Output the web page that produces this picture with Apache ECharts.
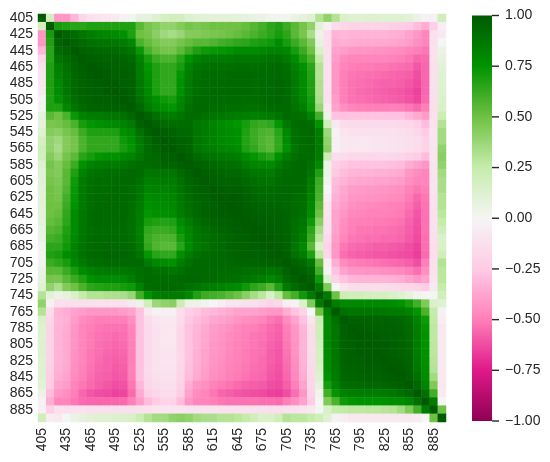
<!DOCTYPE html>
<html><head><meta charset="utf-8">
<style>html,body{margin:0;padding:0;background:#fff}#c{width:550px;height:462px;filter:blur(0.4px)}</style>
<script src="https://cdn.jsdelivr.net/npm/echarts@6/dist/echarts.min.js"></script>
</head><body><div id="c"></div>
<script>
const wavelengths = [405,415,425,435,445,455,465,475,485,495,505,515,525,535,545,555,565,575,585,595,605,615,625,635,645,655,665,675,685,695,705,715,725,735,745,755,765,775,785,795,805,815,825,835,845,855,865,875,885,895];
const colorStops = ['#8e0152','#e0188a','#ff7fb8','#ffcbe5','#f5f5f5','#c6ecab','#6fc143','#009300','#005a00'];
const barTicks = [-1,-0.75,-0.5,-0.25,0,0.25,0.5,0.75,1];
// Lower triangle of the correlation matrix, in hundredths
const lowerTriangle = [
[100],
[18,100],
[-42,70,100],
[-42,68,95,100],
[-32,66,92,96,100],
[-18,66,88,93,97,100],
[-12,68,84,90,95,98,100],
[-10,68,82,89,94,97,99,100],
[-9,68,80,88,93,96,98,99,100],
[-6,68,79,87,93,96,97,98,99,100],
[-2,68,76,85,91,95,97,98,98,99,100],
[2,68,68,80,88,93,95,96,97,97,98,100],
[8,55,50,58,73,82,85,86,87,88,90,94,100],
[8,47,48,52,58,70,74,76,78,79,82,86,96,100],
[12,44,42,47,52,62,68,68,68,69,76,80,90,97,100],
[17,40,36,44,48,58,64,64,64,64,72,76,86,93,98,100],
[19,40,34,44,48,58,64,64,64,64,70,74,85,92,96,99,100],
[18,44,38,48,54,66,70,74,76,76,80,82,88,92,94,97,98,100],
[13,48,44,52,62,75,82,84,86,86,88,90,92,92,93,95,96,98,100],
[11,46,44,55,68,82,88,90,91,91,92,93,92,87,88,88,88,93,97,100],
[10,48,46,55,72,86,90,92,92,92,93,93,90,84,85,85,85,90,95,98,100],
[10,50,47,57,73,86,91,92,92,93,93,92,88,82,83,83,84,89,94,97,98,100],
[10,50,48,60,74,86,91,92,93,93,93,92,87,78,80,80,81,87,92,95,97,99,100],
[10,50,50,62,75,86,91,93,93,93,93,91,86,76,78,78,80,86,91,94,96,98,99,100],
[9,50,52,64,78,87,92,93,93,93,93,91,85,74,76,76,78,85,90,94,96,98,99,99,100],
[8,52,55,65,78,87,92,93,93,93,92,90,84,70,68,67,68,78,85,91,94,96,97,98,99,100],
[6,56,58,68,78,87,91,92,92,92,92,90,83,64,62,62,64,74,81,88,91,94,95,97,98,99,100],
[5,60,62,70,80,88,92,93,93,93,93,91,84,62,58,57,58,70,80,87,90,92,94,95,97,98,99,100],
[3,65,65,72,82,89,92,93,94,94,94,92,86,64,57,55,55,66,78,86,89,92,93,95,96,97,98,99,100],
[2,68,70,78,82,90,93,94,95,95,95,93,89,74,66,64,64,76,85,90,92,93,94,95,96,97,97,98,99,100],
[2,62,65,70,80,86,91,92,93,93,93,93,93,86,80,78,76,85,90,93,93,94,94,94,95,95,95,96,97,98,100],
[5,55,55,62,70,78,83,86,86,86,87,89,91,92,90,90,88,90,93,93,93,93,92,92,92,91,90,90,88,90,96,100],
[8,48,47,55,62,68,75,78,78,78,80,84,90,93,92,92,92,93,94,94,93,93,92,91,90,88,86,84,80,84,93,97,100],
[12,40,33,45,50,58,65,67,68,68,70,72,82,92,93,93,93,92,90,88,85,84,82,80,78,72,65,62,55,68,86,92,97,100],
[30,10,5,8,15,25,30,30,32,32,33,38,60,75,84,86,86,85,80,68,62,60,58,54,50,42,34,28,15,28,52,60,72,86,100],
[40,-3,-14,-14,-13,-13,-12,-12,-12,-12,-12,-8,5,20,37,40,42,22,5,5,3,0,-5,-10,-10,-12,-12,-16,-20,-18,-5,-2,14,45,86,100],
[30,-15,-33,-35,-38,-40,-42,-42,-42,-42,-40,-38,-28,-8,-2,-3,-3,-14,-22,-26,-30,-32,-34,-36,-38,-38,-38,-40,-42,-42,-35,-28,-20,0,50,84,100],
[15,-18,-32,-34,-40,-46,-48,-50,-50,-50,-50,-45,-28,-15,-10,-8,-8,-15,-26,-30,-33,-37,-38,-40,-43,-45,-46,-48,-52,-54,-46,-38,-28,-10,22,80,90,100],
[12,-20,-33,-35,-42,-48,-50,-52,-53,-53,-53,-48,-28,-16,-12,-9,-9,-17,-28,-32,-36,-40,-42,-44,-47,-49,-50,-52,-55,-57,-50,-42,-32,-14,20,80,88,97,100],
[12,-20,-33,-36,-43,-48,-51,-53,-54,-55,-54,-49,-28,-16,-12,-9,-9,-17,-28,-33,-37,-41,-43,-46,-48,-50,-52,-53,-56,-58,-51,-43,-33,-15,20,80,88,97,99,100],
[13,-20,-33,-36,-43,-48,-51,-54,-55,-56,-55,-50,-28,-16,-12,-9,-9,-17,-28,-33,-37,-42,-44,-47,-49,-50,-52,-54,-57,-59,-52,-44,-33,-15,18,80,88,97,98,99,100],
[13,-20,-33,-36,-44,-48,-52,-54,-56,-57,-56,-50,-28,-16,-12,-10,-10,-17,-28,-34,-38,-42,-44,-47,-49,-51,-53,-54,-58,-60,-53,-44,-33,-15,17,79,88,96,98,99,99,100],
[12,-20,-33,-36,-44,-48,-52,-55,-57,-58,-57,-50,-28,-16,-12,-10,-10,-17,-28,-34,-38,-43,-45,-48,-49,-51,-53,-55,-58,-60,-54,-45,-33,-15,17,79,87,96,97,98,99,99,100],
[12,-22,-34,-37,-45,-49,-53,-56,-57,-59,-58,-49,-28,-16,-12,-11,-11,-18,-29,-35,-39,-44,-46,-49,-50,-52,-54,-55,-59,-61,-55,-46,-34,-16,15,78,86,95,96,97,98,98,99,100],
[12,-23,-35,-38,-46,-50,-54,-57,-58,-60,-59,-50,-28,-17,-13,-12,-12,-19,-30,-36,-40,-45,-47,-50,-51,-53,-55,-56,-60,-62,-56,-47,-35,-17,12,75,85,94,95,96,97,97,98,99,100],
[10,-25,-38,-40,-48,-52,-55,-58,-60,-62,-61,-52,-32,-18,-15,-13,-13,-21,-35,-42,-45,-49,-51,-53,-55,-57,-58,-59,-62,-63,-58,-50,-38,-18,8,70,82,91,92,93,94,94,95,96,98,100],
[5,-30,-42,-45,-50,-56,-60,-62,-63,-65,-64,-55,-36,-22,-18,-15,-15,-23,-38,-46,-48,-52,-56,-58,-60,-61,-62,-63,-65,-66,-62,-54,-42,-20,3,60,74,82,84,85,85,85,86,87,90,94,100],
[-2,-35,-48,-48,-52,-55,-56,-56,-56,-56,-55,-50,-40,-30,-25,-20,-20,-30,-42,-48,-48,-50,-52,-53,-53,-53,-53,-54,-54,-55,-50,-45,-38,-25,0,45,58,72,74,75,75,75,76,77,78,82,90,100],
[-3,-22,-12,-12,-12,-12,-13,-13,-13,-13,-13,-13,-12,-12,-10,-10,-10,-10,-11,-11,-11,-11,-12,-12,-12,-12,-13,-13,-14,-14,-12,-12,-10,-8,1,15,25,26,27,27,28,28,29,30,35,45,60,85,100],
[20,-5,-7,0,5,8,10,12,12,13,14,15,22,30,35,35,40,42,40,35,33,33,30,30,28,25,20,15,15,20,30,28,28,25,20,12,-2,-5,-7,-8,-8,-8,-8,-8,-8,-7,-6,0,50,100]
];
lowerTriangle.forEach((r,i)=>{ if(r.length!==i+1) throw new Error('row '+i+' has '+r.length); });
const cells = [];
lowerTriangle.forEach((row,i)=>row.forEach((v,j)=>{
  cells.push([j,i,v/100]);
  if(i!==j) cells.push([i,j,v/100]);
}));
const font = {color:'#262626',fontFamily:'"Liberation Sans",Arial,sans-serif',fontSize:14};
const barRect = {type:'rect',z:0,shape:{x:472,y:15.5,width:20,height:405.5},
  style:{fill:new echarts.graphic.LinearGradient(0,0,0,1,
    colorStops.slice().reverse().map((c,i,a)=>({offset:i/(a.length-1),color:c})))}};
const chart = echarts.init(document.getElementById('c'),null,{renderer:'canvas'});
chart.setOption({
  animation:false,
  backgroundColor:'#fff',
  grid:[
    {left:38,top:14,width:408,height:408,containLabel:false},
    {left:472,top:15.5,width:20,height:405.5,containLabel:false}
  ],
  xAxis:[
    {type:'category',gridIndex:0,data:wavelengths.map(String),position:'bottom',
     axisLine:{show:false},axisTick:{show:false},splitArea:{show:false},splitLine:{show:false},
     axisLabel:Object.assign({interval:2,rotate:90,margin:6},font)},
    {type:'value',gridIndex:1,show:false,min:0,max:1}
  ],
  yAxis:[
    {type:'category',gridIndex:0,data:wavelengths.map(String),inverse:true,
     axisLine:{show:false},axisTick:{show:false},splitArea:{show:false},splitLine:{show:false},
     axisLabel:Object.assign({interval:1,margin:5},font)},
    {type:'value',gridIndex:1,position:'right',min:-1,max:1,interval:0.25,
     axisLine:{show:false,onZero:false},splitLine:{show:false},axisTick:{show:false},
     axisLabel:Object.assign({margin:13,showMinLabel:true,showMaxLabel:true,
       formatter:v=>barTicks.includes(v)?v.toFixed(2).replace('-','\u2212'):''},font)}
  ],
  visualMap:{type:'continuous',min:-1,max:1,seriesIndex:0,show:false,inRange:{color:colorStops}},
  series:[
    {type:'heatmap',xAxisIndex:0,yAxisIndex:0,data:cells,progressive:0,itemStyle:{borderWidth:0},emphasis:{disabled:true}}
  ]
});
const tickMarks = barTicks.map(v=>{
  const y = chart.convertToPixel({yAxisIndex:1},v);
  return {type:'line',z:100,shape:{x1:492,y1:y,x2:499,y2:y},style:{stroke:'#262626',lineWidth:1.4}};
});
chart.setOption({graphic:[barRect].concat(tickMarks)});
</script></body></html>
